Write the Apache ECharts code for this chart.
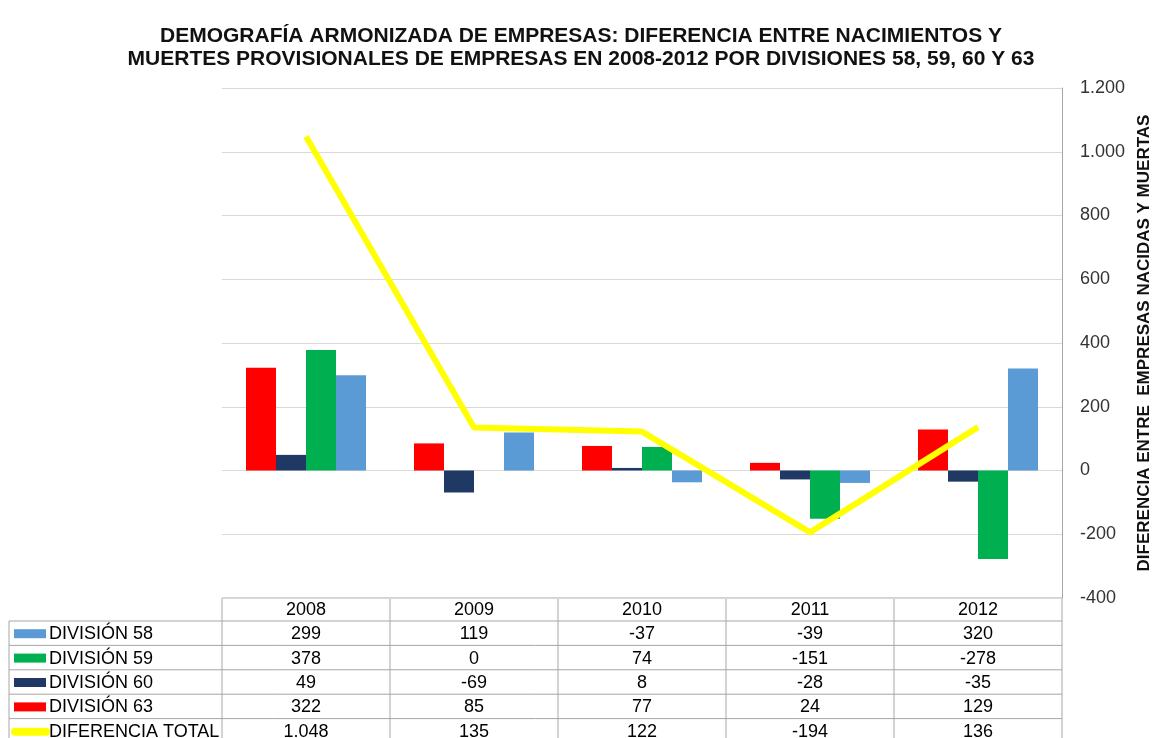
<!DOCTYPE html>
<html>
<head>
<meta charset="utf-8">
<title>Demografía armonizada de empresas</title>
<script src="https://cdn.jsdelivr.net/npm/echarts@6/dist/echarts.min.js"></script>
<style>
    html, body { margin: 0; padding: 0; background: #fff; }
    #chart { width: 1156px; height: 738px; }
</style>
</head>
<body>
<div id="chart"></div>
<script>
// data
const years = ["2008", "2009", "2010", "2011", "2012"];
const division58 = [299, 119, -37, -39, 320];
const division59 = [378, 0, 74, -151, -278];
const division60 = [49, -69, 8, -28, -35];
const division63 = [322, 85, 77, 24, 129];
const diferenciaTotal = [1048, 135, 122, -194, 136];
const yMin = -400;
const yMax = 1200;
const yStep = 200;

// table rows in the order the reference lists them
const rows = [
    { name: "DIVISIÓN 58", color: "#5b9bd5", values: division58 },
    { name: "DIVISIÓN 59", color: "#00b050", values: division59 },
    { name: "DIVISIÓN 60", color: "#203864", values: division60 },
    { name: "DIVISIÓN 63", color: "#ff0000", values: division63 },
    { name: "DIFERENCIA TOTAL", color: "#ffff00", values: diferenciaTotal, line: true }
];

const fmt = v => {
    const s = Math.abs(v).toString().replace(/\B(?=(\d{3})+(?!\d))/g, ".");
    return (v < 0 ? "-" : "") + s;
};

// layout
const gridLeft = 222;
const gridRight = 1062;
const gridTop = 88;
const gridBottom = 598;
const tableLeft = 9;
const headerH = 23;
const rowH = 24.4;
const border = "#a6a6a6";
const font = "Liberation Sans, Arial, sans-serif";

function buildTable() {
    const els = [];
    const colW = (gridRight - gridLeft) / years.length;
    const bodyTop = gridBottom + headerH;
    const bottom = bodyTop + rowH * rows.length;
    const line = (x1, y1, x2, y2) => els.push({
        type: "line", silent: true,
        shape: { x1, y1, x2, y2 },
        style: { stroke: border, lineWidth: 1 }
    });
    const text = (x, y, t, align) => els.push({
        type: "text", silent: true, x, y,
        style: { text: t, fill: "#000", fontSize: 18, fontFamily: font,
                 textAlign: align, textVerticalAlign: "middle" }
    });

    line(gridLeft, gridBottom, gridRight, gridBottom);
    for (let i = 0; i <= rows.length; i++) {
        const y = bodyTop + rowH * i;
        line(tableLeft, y, gridRight, y);
    }
    line(tableLeft, bodyTop, tableLeft, bottom);
    for (let c = 0; c <= years.length; c++) {
        const x = gridLeft + colW * c;
        line(x, gridBottom, x, bottom);
    }
    years.forEach((y, c) => text(gridLeft + colW * (c + 0.5), gridBottom + headerH / 2 + 1, y, "center"));
    rows.forEach((r, i) => {
        const cy = bodyTop + rowH * (i + 0.5);
        if (r.line) {
            els.push({
                type: "line", silent: true,
                shape: { x1: 15, y1: cy + 1, x2: 46, y2: cy + 1 },
                style: { stroke: r.color, lineWidth: 8, lineCap: "round" }
            });
        } else {
            els.push({
                type: "rect", silent: true,
                shape: { x: 14, y: cy - 4, width: 32, height: 9 },
                style: { fill: r.color }
            });
        }
        text(49, cy + 1, r.name, "left");
        r.values.forEach((v, c) => text(gridLeft + colW * (c + 0.5), cy + 1, fmt(v), "center"));
    });
    return els;
}

const chart = echarts.init(document.getElementById("chart"));

const bar = (name, color, data) => ({
    name,
    type: "bar",
    data,
    barWidth: 30,
    barGap: "0%",
    itemStyle: { color },
    z: 2
});

chart.setOption({
    backgroundColor: "#fff",
    animation: false,
    title: {
        text: "DEMOGRAFÍA ARMONIZADA DE EMPRESAS: DIFERENCIA ENTRE NACIMIENTOS Y\nMUERTES PROVISIONALES DE EMPRESAS EN 2008-2012 POR DIVISIONES 58, 59, 60 Y 63",
        left: 576,
        top: 20,
        textAlign: "center",
        textStyle: {
            fontFamily: font,
            fontSize: 21,
            fontWeight: "bold",
            color: "#111",
            lineHeight: 23
        }
    },
    grid: {
        left: gridLeft,
        right: 1156 - gridRight,
        top: gridTop,
        bottom: 738 - gridBottom,
        containLabel: false,
        outerBoundsMode: "none"
    },
    xAxis: {
        type: "category",
        data: years,
        axisLine: { show: false },
        axisTick: { show: false },
        axisLabel: { show: false }
    },
    yAxis: {
        type: "value",
        position: "right",
        min: yMin,
        max: yMax,
        interval: yStep,
        name: "DIFERENCIA ENTRE  EMPRESAS NACIDAS Y MUERTAS",
        nameLocation: "middle",
        nameRotate: 90,
        nameGap: 71,
        nameTextStyle: {
            fontFamily: font,
            fontSize: 17,
            fontWeight: "bold",
            color: "#111"
        },
        axisLine: { show: true, lineStyle: { color: border } },
        axisTick: { show: false },
        axisLabel: {
            margin: 18,
            fontFamily: font,
            fontSize: 18,
            color: "#333",
            formatter: v => fmt(v)
        },
        splitLine: { lineStyle: { color: "#d9d9d9" } }
    },
    series: [
        bar("DIVISIÓN 63", "#ff0000", division63),
        bar("DIVISIÓN 60", "#203864", division60),
        bar("DIVISIÓN 59", "#00b050", division59),
        bar("DIVISIÓN 58", "#5b9bd5", division58),
        {
            name: "DIFERENCIA TOTAL",
            type: "line",
            data: diferenciaTotal,
            symbol: "none",
            smooth: false,
            lineStyle: { color: "#ffff00", width: 6 },
            itemStyle: { color: "#ffff00" },
            z: 5
        }
    ],
    graphic: buildTable()
});
</script>
</body>
</html>
